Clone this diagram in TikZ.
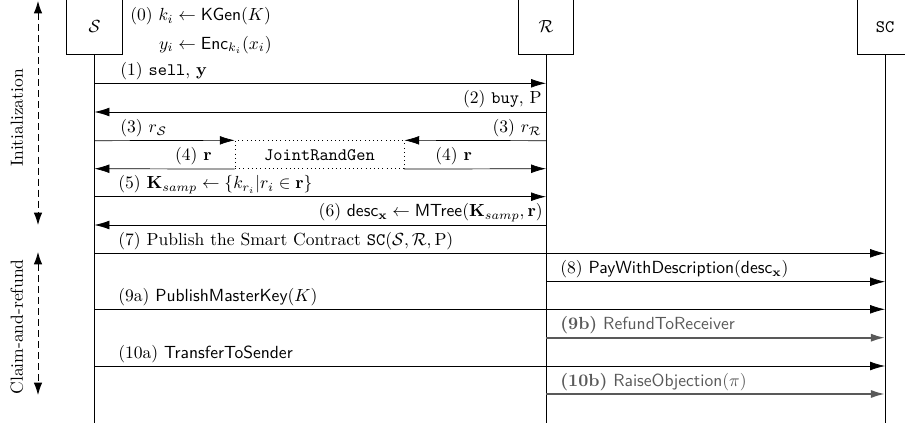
\documentclass[tikz,border=0pt]{standalone}
\usetikzlibrary{arrows.meta}
\begin{document}
\begin{tikzpicture}[x=0.57pt, y=-0.57pt,
  party/.style={draw, line width=0.4pt, minimum width=31.6pt, minimum height=31.6pt, inner sep=0pt},
  lifeline/.style={line width=0.4pt},
  msg/.style={line width=0.4pt, -{Latex[length=8.5pt, width=5pt]}},
  altmsg/.style={line width=1.1pt, black!65, -{Latex[length=8pt, width=4.6pt]}},
  lbl/.style={inner sep=0pt, anchor=base west},
  lblr/.style={inner sep=0pt, anchor=base east},
  altlbl/.style={inner sep=0pt, anchor=base west, text=black!65},
  phase/.style={line width=0.5pt, dash pattern=on 4pt off 2.3pt, {Latex[length=7pt, width=4.8pt]}-{Latex[length=7pt, width=4.8pt]}},
  jointbox/.style={draw, dotted, line width=0.4pt, minimum width=96.3pt, minimum height=16pt, inner sep=0pt}
]
\useasboundingbox (0,0) rectangle (905,428);

% participants
\node[party] (S)  at (94.5,26.7) {$\mathcal{S}$};
\node[party] (R)  at (546,26.7)  {$\mathcal{R}$};
\node[party] (SC) at (885,26.7)  {\texttt{SC}};

% message heights
\foreach \n/\y in {1/83.3,2/112,3/140.7,4/168.7,5/196.7,6/225,7/253.3,8/281.7,9/309.3,10/337.7,11/366,12/394,end/422.7}{
  \coordinate (s\n) at (94.5,\y);
  \coordinate (r\n) at (546,\y);
  \coordinate (c\n) at (885,\y);
}

% lifelines
\draw[lifeline] (S.south) -- (send);
\draw[lifeline] (R.south) -- (rend);
\draw[lifeline] (SC.south) -- (cend);

% step (0)
\node[inner sep=0pt, anchor=north west] (init) at (130,0.5)
  {$\renewcommand{\arraystretch}{1.35}\begin{array}{@{}r@{\;}l@{}}
   (0)\ k_i & \gets \mathsf{KGen}(K)\\
   y_i & \gets \mathsf{Enc}_{k_i}(x_i)
   \end{array}$};

% initialization messages
\draw[msg] (s1) -- (r1);
\node[lbl] (l1) at (120,75.3) {(1) \texttt{sell}, $\mathbf{y}$};
\draw[msg] (r2) -- (s2);
\node[lblr] (l2) at (542,104) {(2) \texttt{buy}, P};

\node[jointbox] (jrg) at (319.5,154.7) {\texttt{JointRandGen}};
\draw[msg] (s3) -- (jrg.north west);
\node[lbl] (l3a) at (120,132.7) {(3) $r_{\mathcal{S}}$};
\draw[msg] (r3) -- (jrg.north east);
\node[lblr] (l3b) at (542,132.7) {(3) $r_{\mathcal{R}}$};
\draw[msg] (jrg.south west) -- (s4);
\node[lblr] (l4a) at (212,160.7) {(4) $\mathbf{r}$};
\draw[msg] (jrg.south east) -- (r4);
\node[lbl] (l4b) at (435,160.7) {(4) $\mathbf{r}$};

\draw[msg] (s5) -- (r5);
\node[lbl] (l5) at (118,188.7) {(5) $\mathbf{K}_{samp} \gets \{k_{r_i} | r_i \in \mathbf{r}\}$};
\draw[msg] (r6) -- (s6);
\node[lblr] (l6) at (543,217) {(6) $\mathsf{desc}_{\mathbf{x}} \gets \mathsf{MTree}(\mathbf{K}_{samp}, \mathbf{r})$};

% claim-and-refund messages
\draw[msg] (s7) -- (c7);
\node[lbl] (l7) at (118,245.3) {(7) Publish the Smart Contract $\mathtt{SC}(\mathcal{S}, \mathcal{R}, \mathrm{P})$};
\draw[msg] (r8) -- (c8);
\node[lbl] (l8) at (560,273.7) {(8) \textsf{PayWithDescription}($\mathsf{desc}_{\mathbf{x}}$)};
\draw[msg] (s9) -- (c9);
\node[lbl] (l9a) at (118,301.3) {(9a) \textsf{PublishMasterKey}($K$)};
\draw[altmsg] (r10) -- (c10);
\node[altlbl] (l9b) at (560,329.7) {\textbf{(9b)} \textsf{RefundToReceiver}};
\draw[msg] (s11) -- (c11);
\node[lbl] (l10a) at (118,358) {(10a) \textsf{TransferToSender}};
\draw[altmsg] (r12) -- (c12);
\node[altlbl] (l10b) at (560,386) {\textbf{(10b)} \textsf{RaiseObjection}($\pi$)};

% phase markers
\coordinate (ia) at (38,1);
\coordinate (ib) at (38,225);
\draw[phase] (ia) -- (ib);
\node[rotate=90, inner sep=0pt] (pinit) at (17,118) {Initialization};
\coordinate (ca) at (38,252);
\coordinate (cb) at (38,395);
\draw[phase] (ca) -- (cb);
\node[rotate=90, inner sep=0pt] (pclaim) at (17,327) {Claim-and-refund};
\end{tikzpicture}
\end{document}
